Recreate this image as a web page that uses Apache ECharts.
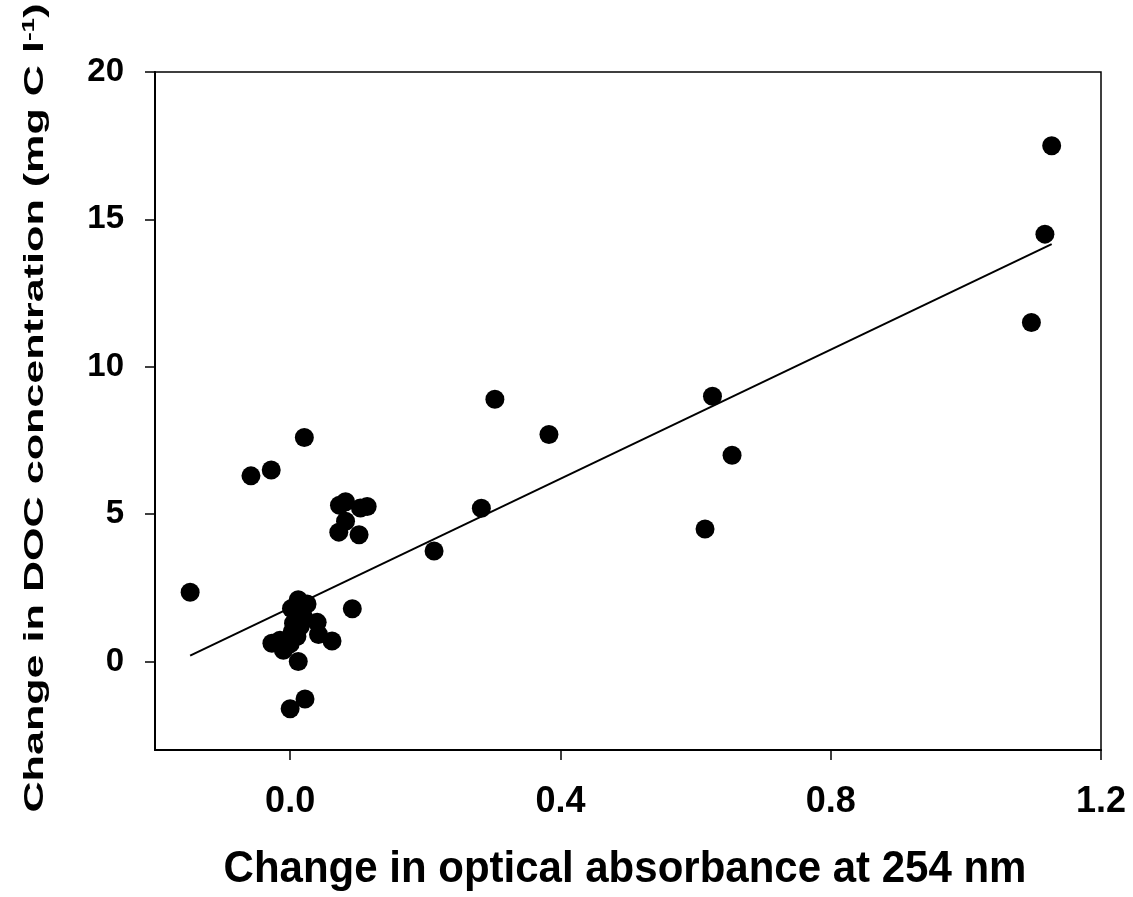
<!DOCTYPE html>
<html>
<head>
<meta charset="utf-8">
<script src="https://cdn.jsdelivr.net/npm/echarts@6/dist/echarts.min.js"></script>
<style>html,body{margin:0;padding:0;background:#fff;}#c{width:1133px;height:897px;}</style>
</head>
<body>
<div id="c"></div>
<script>
const xVals = [-0.148, -0.058, -0.028, 0.021, 0.073, 0.082, 0.104, 0.114, 0.082, 0.072, 0.102, 0.092,
  0.213, 0.283, 0.303, 0.383, 0.614, 0.625, 0.654, 1.097, 1.117, 1.127,
  -0.027, -0.015, -0.01, 0.0, 0.003, 0.005, 0.002, 0.012, 0.025, 0.02, 0.015, 0.01, 0.018, 0.04, 0.042, 0.062, 0.012, 0.022, 0.0];
const yVals = [2.35, 6.3, 6.5, 7.6, 5.3, 5.42, 5.21, 5.26, 4.76, 4.39, 4.3, 1.79,
  3.75, 5.2, 8.9, 7.7, 4.5, 9.0, 7.0, 11.5, 14.5, 17.5,
  0.62, 0.72, 0.38, 0.6, 1.0, 1.3, 1.8, 2.1, 1.95, 1.5, 1.2, 0.85, 1.75, 1.33, 0.92, 0.7, 0.0, -1.27, -1.6];
const fitX = [-0.148, 1.127];
const fitY = [0.2, 14.16];
const xTicks = [0.0, 0.4, 0.8, 1.2];
const yTicks = [0, 5, 10, 15, 20];
const xTitle = 'Change in optical absorbance at 254 nm';
const yTitleMain = 'Change in DOC concentration (mg C l';
const yTitleSup = '-1';
const yTitleEnd = ')';

const FONT = '"Liberation Sans", Arial, sans-serif';
const chart = echarts.init(document.getElementById('c'), null, {renderer: 'canvas'});
chart.setOption({
  animation: false,
  backgroundColor: '#fff',
  grid: {left: 155, right: 32, top: 72, bottom: 147, show: true, borderColor: '#000', borderWidth: 1.5, containLabel: false},
  xAxis: {
    type: 'value', min: -0.2, max: 1.2,
    axisLine: {show: true, onZero: false, lineStyle: {color: '#000', width: 2}},
    axisTick: {show: true, length: 10, lineStyle: {color: '#000', width: 1.5}, customValues: xTicks},
    axisLabel: {customValues: xTicks, margin: 34, color: '#000', fontFamily: FONT, fontWeight: 'bold', fontSize: 36,
      formatter: v => Number(v).toFixed(1)},
    splitLine: {show: false}
  },
  yAxis: {
    type: 'value', min: -3, max: 20,
    axisLine: {show: true, onZero: false, lineStyle: {color: '#000', width: 2}},
    axisTick: {show: true, length: 10, lineStyle: {color: '#000', width: 1.5}, customValues: yTicks},
    axisLabel: {customValues: yTicks, margin: 31, color: '#000', fontFamily: FONT, fontWeight: 'bold', fontSize: 33,
      formatter: v => String(Math.round(v))},
    splitLine: {show: false}
  },
  graphic: [
    {type: 'text', x: 625, y: 870, scaleY: 1.06,
      style: {text: xTitle, fontFamily: FONT, fontWeight: 'bold', fontSize: 42, fill: '#000', align: 'center', verticalAlign: 'middle'}},
    {type: 'text', x: 35, y: 408, rotation: Math.PI / 2, scaleX: 1.54,
      style: {text: '{a|' + yTitleMain + '}{s|' + yTitleSup + '}{a|' + yTitleEnd + '}', align: 'center', verticalAlign: 'middle',
        fill: '#000', fontFamily: FONT, fontWeight: 'bold', fontSize: 28,
        rich: {a: {fontFamily: FONT, fontWeight: 'bold', fontSize: 28, fill: '#000'},
               s: {fontFamily: FONT, fontWeight: 'bold', fontSize: 17, fill: '#000', verticalAlign: 'top'}}}}
  ],
  series: [
    {type: 'line', data: fitX.map((x, i) => [x, fitY[i]]), showSymbol: false, symbol: 'none',
      lineStyle: {color: '#000', width: 2}, z: 2},
    {type: 'scatter', data: xVals.map((x, i) => [x, yVals[i]]), symbol: 'circle', symbolSize: 19,
      itemStyle: {color: '#000', opacity: 1}, z: 3}
  ]
});
</script>
</body>
</html>
